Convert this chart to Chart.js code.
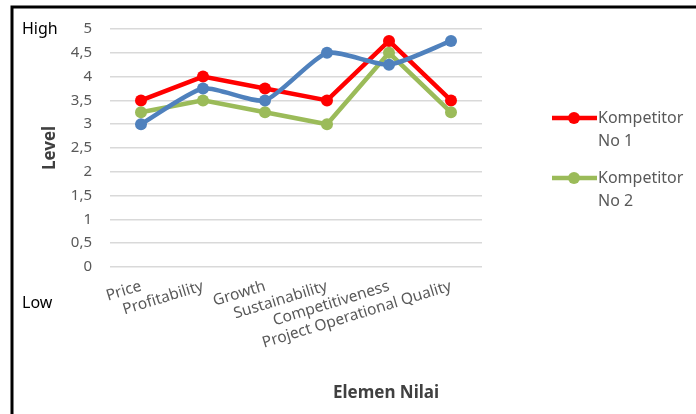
<!DOCTYPE html>
<html>
<head>
<meta charset="utf-8">
<script src="https://cdn.jsdelivr.net/npm/chart.js@4/dist/chart.umd.min.js"></script>
<style>
  html, body { margin: 0; padding: 0; background: #fff; }
  #wrap { width: 696px; height: 414px; }
</style>
</head>
<body>
<div id="wrap"><canvas id="chart" width="696" height="414"></canvas></div>
<script>
const categories = ['Price', 'Profitability', 'Growth', 'Sustainability', 'Competitiveness', 'Project Operational Quality'];
const kompetitor1 = [3.5, 4, 3.75, 3.5, 4.75, 3.5];
const kompetitor2 = [3.25, 3.5, 3.25, 3, 4.5, 3.25];
const seriesBiru = [3, 3.75, 3.5, 4.5, 4.25, 4.75];
const seriesNames = ['Kompetitor No 1', 'Kompetitor No 2', ''];
const legendLines = [['Kompetitor', 'No 1'], ['Kompetitor', 'No 2']];
const yMin = 0, yMax = 5, yStep = 0.5;

const FONT = "'Noto Sans', 'Open Sans', sans-serif";
const colors = ['#ff0000', '#9bbb59', '#4f81bd'];

// border, High/Low, x title and the two-line legend
const decorPlugin = {
    id: 'decor',
    afterDraw(chart) {
        const ctx = chart.ctx;
        ctx.save();
        ctx.strokeStyle = '#000';
        ctx.lineWidth = 3;
        ctx.beginPath();
        ctx.moveTo(12, 414);
        ctx.lineTo(12, 7);
        ctx.lineTo(696, 7);
        ctx.stroke();

        ctx.fillStyle = '#000';
        ctx.font = '16px ' + FONT;
        ctx.textAlign = 'left';
        ctx.textBaseline = 'middle';
        ctx.fillText('High', 22, 29);
        ctx.fillText('Low', 22, 303);

        ctx.fillStyle = '#404040';
        ctx.font = 'bold 17px ' + FONT;
        ctx.textAlign = 'center';
        ctx.fillText('Elemen Nilai', 386, 393);

        const rows = [118, 178];
        legendLines.forEach((lines, i) => {
            const y = rows[i];
            const c = chart.data.datasets[i].borderColor;
            ctx.strokeStyle = c;
            ctx.lineWidth = 4.5;
            ctx.beginPath();
            ctx.moveTo(552, y);
            ctx.lineTo(597, y);
            ctx.stroke();
            ctx.fillStyle = c;
            ctx.beginPath();
            ctx.arc(574, y, 6, 0, Math.PI * 2);
            ctx.fill();
            ctx.fillStyle = '#595959';
            ctx.font = '16px ' + FONT;
            ctx.textAlign = 'left';
            ctx.fillText(lines[0], 598, y);
            ctx.fillText(lines[1], 598, y + 23);
        });
        ctx.restore();
    }
};

const makeSet = (label, data, i, order, tension) => ({
    label: label,
    data: data,
    borderColor: colors[i],
    backgroundColor: colors[i],
    pointBackgroundColor: colors[i],
    pointBorderWidth: 0,
    pointRadius: 6,
    borderWidth: 4.5,
    tension: tension,
    order: order
});

new Chart(document.getElementById('chart'), {
    type: 'line',
    data: {
        labels: categories,
        datasets: [
            makeSet(seriesNames[0], kompetitor1, 0, 3, 0),
            makeSet(seriesNames[1], kompetitor2, 1, 2, 0),
            makeSet(seriesNames[2], seriesBiru, 2, 1, 0.2)
        ]
    },
    options: {
        responsive: false,
        animation: false,
        layout: { padding: { left: 0, right: 214, top: 29, bottom: 0 } },
        plugins: { legend: { display: false }, tooltip: { enabled: false } },
        scales: {
            x: {
                offset: true,
                grid: { display: false },
                border: { display: false },
                ticks: {
                    autoSkip: false,
                    maxRotation: 17,
                    minRotation: 17,
                    padding: 2,
                    color: '#595959',
                    font: { family: FONT, size: 15.5 }
                },
                afterFit(scale) { scale.height = 147; }
            },
            y: {
                min: yMin,
                max: yMax,
                grid: { color: '#d9d9d9', lineWidth: 1.5, drawTicks: false },
                border: { display: false },
                ticks: {
                    stepSize: yStep,
                    padding: 18,
                    color: '#595959',
                    font: { family: FONT, size: 15 },
                    callback: v => String(v).replace('.', ',')
                },
                title: {
                    display: true,
                    text: 'Level',
                    color: '#404040',
                    font: { family: FONT, size: 17, weight: 'bold' },
                    padding: { top: 40, bottom: 0 }
                },
                afterFit(scale) { scale.width = 110; }
            }
        }
    },
    plugins: [decorPlugin]
});
</script>
</body>
</html>
